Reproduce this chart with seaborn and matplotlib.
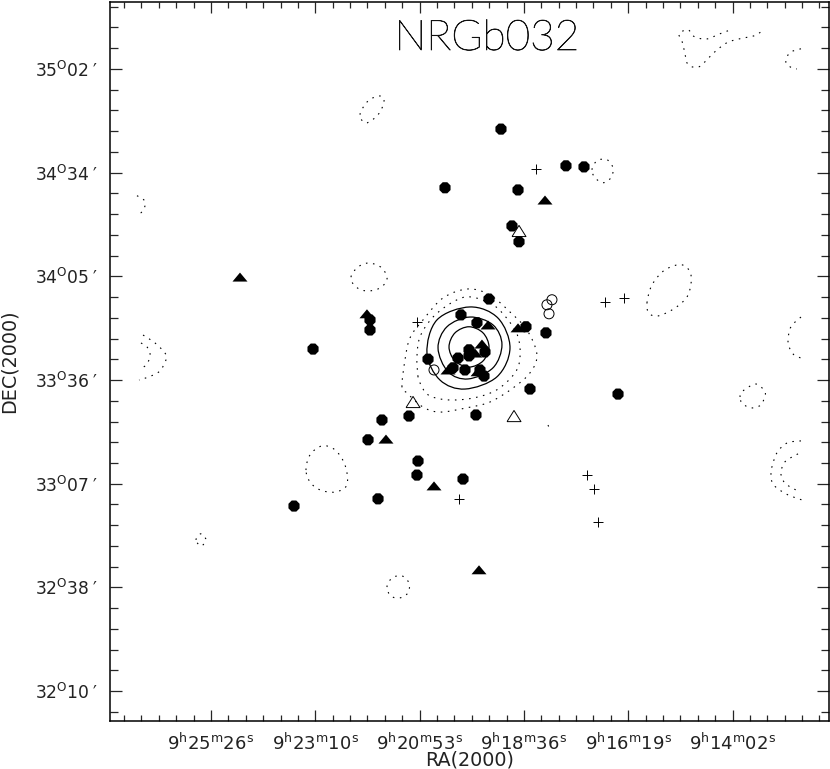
import numpy as np
import pandas as pd
import matplotlib
matplotlib.use('Agg')
import matplotlib.pyplot as plt
import matplotlib.patheffects as pe
from matplotlib.path import Path
from matplotlib.patches import PathPatch
import seaborn as sns

# positions: RA = seconds after 9h, DEC = arcmin
ra_ticks = [1526, 1388.3, 1250.6, 1112.9, 975.2, 837.5]
ra_labels = ['25$^{m}$26', '23$^{m}$10', '20$^{m}$53', '18$^{m}$36', '16$^{m}$19', '14$^{m}$02']
dec_ticks = [2102.4, 2073.6, 2044.8, 2016.0, 1987.2, 1958.4, 1929.6]
dec_labels = ['35$^{O}$02', '34$^{O}$34', '34$^{O}$05', '33$^{O}$36', '33$^{O}$07', '32$^{O}$38', '32$^{O}$10']

# galaxies, one pair of lists per symbol
filled_circle_ra = [1143.2, 1057.4, 1033.6, 1217.1, 1120.7, 1128.7, 1119.4, 1159.0, 1196.0, 1174.9, 1110.2, 1083.8,
                    1316.1, 1316.1, 1391.3, 1164.3, 1185.4, 1185.4, 1199.9, 1239.5, 1206.5, 1190.7, 1170.9, 1165.6,
                    1104.9, 1264.6, 1176.2, 1300.3, 988.7, 1318.7, 1252.7, 1254.1, 1193.3, 1305.5, 1416.4]
filled_circle_dec = [2085.7, 2075.5, 2075.2, 2069.4, 2068.8, 2058.8, 2054.4, 2038.5, 2034.1, 2031.9, 2030.8, 2029.1,
                     2032.7, 2029.9, 2024.6, 2023.8, 2024.4, 2022.7, 2022.1, 2021.8, 2019.4, 2018.8, 2018.8, 2017.1,
                     2013.5, 2006.0, 2006.3, 2004.9, 2012.1, 1999.4, 1993.5, 1989.6, 1988.5, 1983.0, 1981.0]
filled_tri_ra = [1487.7, 1320.1, 1085.1, 1160.3, 1120.7, 1168.3, 1173.5, 1213.1, 1295.0, 1231.6, 1172.2, 1177.5]
filled_tri_dec = [2044.6, 2034.4, 2066.0, 2031.3, 2030.5, 2026.0, 2018.3, 2018.8, 1999.6, 1986.6, 1963.3, 2023.5]
open_circle_ra = [1231.6, 1075.9, 1082.5, 1079.8]
open_circle_dec = [2018.8, 2038.3, 2036.9, 2034.4]
open_tri_ra = [1119.4, 1259.3, 1126.0]
open_tri_dec = [2057.4, 2009.9, 2006.0]
plus_ra = [1097.0, 1254.1, 1005.9, 980.8, 1198.6, 1029.7, 1020.4, 1015.1]
plus_dec = [2074.7, 2032.1, 2037.7, 2038.8, 1983.0, 1989.6, 1985.8, 1976.6]

# X-ray contours
solid_contours = [
    ([1240.9, 1227.7, 1184.1, 1147.1, 1131.3, 1148.5, 1190.7, 1223.7],
     [2023.5, 2032.7, 2036.3, 2033.2, 2024.9, 2016.9, 2013.5, 2016.0]),
    ([1226.3, 1214.5, 1184.1, 1153.7, 1141.9, 1153.7, 1186.7, 1213.1],
     [2024.9, 2030.8, 2033.5, 2031.3, 2025.8, 2019.4, 2016.3, 2018.3]),
    ([1211.8, 1203.9, 1185.4, 1166.9, 1159.0, 1166.9, 1185.4, 1203.9],
     [2025.2, 2029.1, 2030.8, 2029.1, 2025.2, 2021.3, 2019.6, 2021.3]),
]
dotted_closed = [
    ([1273.9, 1269.9, 1263.3, 1246.1, 1219.7, 1186.7, 1157.7, 1131.3, 1108.9, 1095.7, 1104.9, 1127.3, 1157.7, 1188.1, 1223.7, 1246.1, 1267.3],
     [2014.1, 2021.6, 2027.7, 2032.7, 2038.8, 2041.3, 2039.6, 2034.9, 2029.9, 2023.0, 2018.0, 2013.8, 2009.9, 2008.3, 2007.1, 2008.5, 2012.4]),
    ([1252.7, 1254.1, 1250.1, 1232.9, 1206.5, 1184.1, 1153.7, 1133.9, 1120.7, 1118.1, 1124.7, 1148.5, 1180.1, 1214.5, 1239.5, 1250.1],
     [2016.9, 2022.4, 2028.0, 2033.5, 2037.7, 2039.1, 2036.9, 2032.7, 2028.0, 2022.4, 2018.0, 2013.3, 2011.0, 2010.5, 2011.9, 2015.2]),
    ([1329.3, 1318.7, 1302.9, 1297.6, 1305.5, 1321.4],
     [2089.7, 2093.5, 2094.9, 2093.3, 2089.7, 2087.4]),
    ([1341.2, 1331.9, 1317.4, 1300.3, 1293.7, 1305.5, 1322.7, 1335.9],
     [2044.6, 2047.4, 2048.5, 2047.1, 2043.8, 2041.3, 2040.8, 2042.1]),
    ([950.5, 943.9, 926.7, 904.3, 892.4, 896.3, 913.5, 935.9, 947.8],
     [2037.4, 2042.4, 2046.6, 2048.0, 2045.2, 2039.6, 2036.0, 2033.8, 2034.6]),
    ([1400.6, 1395.3, 1379.5, 1362.3, 1349.1, 1346.5, 1362.3, 1382.1, 1395.3],
     [1991.0, 1995.2, 1997.7, 1996.6, 1992.4, 1986.9, 1984.9, 1985.5, 1987.7]),
    ([1545.8, 1539.2, 1532.6, 1539.2],
     [1971.6, 1973.3, 1971.6, 1969.9]),
    ([1293.7, 1287.1, 1273.9, 1264.6, 1265.9, 1276.5, 1288.4],
     [1958.5, 1961.0, 1961.6, 1959.6, 1956.9, 1955.5, 1956.0]),
    ([1023.1, 1016.5, 1003.3, 995.3, 998.0, 1008.5, 1019.1],
     [2074.4, 2076.9, 2077.2, 2074.9, 2072.2, 2070.8, 2072.2]),
    ([827.7, 823.7, 806.6, 794.7, 796.0, 800.0, 809.2, 817.1, 825.1],
     [2011.3, 2013.0, 2014.9, 2012.7, 2010.8, 2009.1, 2008.3, 2008.5, 2009.6]),
]
dotted_open = [
    ([747.2, 760.4, 764.3, 761.7, 756.4, 747.2],
     [2033.5, 2030.8, 2027.1, 2024.6, 2023.0, 2022.1]),
    ([747.2, 765.7, 778.9, 785.5, 786.8, 785.5, 778.9, 764.3, 745.9],
     [1999.1, 1998.5, 1995.8, 1991.9, 1990.2, 1987.7, 1986.0, 1984.1, 1982.7]),
    ([751.1, 768.3, 773.6, 769.6, 759.1, 749.8],
     [1995.5, 1993.3, 1990.2, 1987.7, 1986.0, 1985.2]),
    ([843.5, 851.5, 869.9, 879.2, 889.7, 896.3, 908.2, 904.3, 900.3, 897.7, 891.1, 881.8, 873.9, 860.7, 844.9, 827.7, 809.2, 800.0],
     [2113.0, 2112.4, 2110.8, 2110.8, 2111.6, 2113.3, 2112.2, 2110.2, 2106.6, 2104.1, 2103.0, 2103.0, 2104.4, 2107.2, 2109.7, 2110.8, 2111.6, 2112.7]),
    ([747.2, 757.7, 764.3, 767.0, 759.1, 752.5],
     [2108.0, 2107.4, 2106.3, 2104.1, 2102.7, 2102.4]),
    ([1623.7, 1614.4, 1613.1, 1617.1, 1622.3],
     [2067.2, 2066.0, 2064.4, 2062.7, 2062.2]),
    ([1615.7, 1599.9, 1586.7, 1585.4, 1594.6, 1611.8, 1621.0],
     [2028.5, 2026.3, 2023.5, 2021.6, 2018.3, 2016.6, 2016.0]),
    ([1618.4, 1610.5, 1606.5, 1607.8, 1613.1, 1621.0],
     [2026.3, 2025.2, 2023.5, 2021.6, 2019.9, 2019.1]),
    ([1081.1, 1078.5],
     [2003.5, 2002.1]),
]


def smooth_path(xs, ys, closed):
    # catmull-rom control points turned into bezier segments
    pts = np.column_stack([xs, ys])
    n = len(pts)
    verts = [pts[0]]
    codes = [Path.MOVETO]
    for i in range(n if closed else n - 1):
        if closed:
            p0, p1, p2, p3 = pts[(i - 1) % n], pts[i], pts[(i + 1) % n], pts[(i + 2) % n]
        else:
            p0, p1, p2, p3 = pts[max(i - 1, 0)], pts[i], pts[i + 1], pts[min(i + 2, n - 1)]
        verts += [p1 + (p2 - p0) / 6, p2 - (p3 - p1) / 6, p2]
        codes += [Path.CURVE4] * 3
    return Path(verts, codes)


sns.set_theme(style='ticks')
plt.rcParams['font.family'] = 'DejaVu Sans'
plt.rcParams['mathtext.default'] = 'regular'
ink = '#222222'

fig = plt.figure(figsize=(8.3, 7.69), dpi=100)
ax = fig.add_axes([110 / 830, 1 - 721 / 769, 719 / 830, 719 / 769])

for xs, ys in solid_contours:
    ax.add_patch(PathPatch(smooth_path(xs, ys, True), fill=False, ec='black', lw=0.9))
dots = (0, (1.4, 5.0))
for xs, ys in dotted_closed:
    ax.add_patch(PathPatch(smooth_path(xs, ys, True), fill=False, ec='black', lw=0.8, ls=dots))
for xs, ys in dotted_open:
    ax.add_patch(PathPatch(smooth_path(xs, ys, False), fill=False, ec='black', lw=0.8, ls=dots))

flat_tri = [(-1, -0.6), (1, -0.6), (0, 0.6), (-1, -0.6)]
tall_tri = [(-1, -0.8), (1, -0.8), (0, 0.8), (-1, -0.8)]

sns.scatterplot(data=pd.DataFrame({'ra': filled_tri_ra, 'dec': filled_tri_dec}), x='ra', y='dec', ax=ax,
                marker=flat_tri, s=117, color='black', edgecolor='none', zorder=3)
sns.scatterplot(data=pd.DataFrame({'ra': filled_circle_ra, 'dec': filled_circle_dec}), x='ra', y='dec', ax=ax,
                marker='8', s=75, color='black', edgecolor='none', zorder=4)
sns.scatterplot(data=pd.DataFrame({'ra': open_circle_ra, 'dec': open_circle_dec}), x='ra', y='dec', ax=ax,
                marker='o', s=52, facecolors='none', edgecolor='black', linewidth=0.7, zorder=5)
sns.scatterplot(data=pd.DataFrame({'ra': open_tri_ra, 'dec': open_tri_dec}), x='ra', y='dec', ax=ax,
                marker=tall_tri, s=101, facecolors='none', edgecolor='black', linewidth=0.7, zorder=5)
sns.scatterplot(data=pd.DataFrame({'ra': plus_ra, 'dec': plus_dec}), x='ra', y='dec', ax=ax,
                marker='+', s=62, color='black', linewidth=0.7, zorder=5)

ax.set_xticks(ra_ticks)
ax.set_xticklabels(['9$^{h}$' + s + '$^{s}$' for s in ra_labels], fontsize=13, color=ink)
ax.set_yticks(dec_ticks)
ax.set_yticklabels([s + '\u2009\u2032' for s in dec_labels], fontsize=12.3, color=ink)
ax.set_xticks(np.arange(1526 + 137.7 * 5 / 6, 712, -137.7 / 6), minor=True)
ax.set_yticks(np.arange(2102.4 + 5.76 * 3, 1922, -5.76), minor=True)

# after the ticks, set_xticks widens the view otherwise
ax.set_xlim(1659.3, 710.2)
ax.set_ylim(1921.3, 2121.0)

ax.tick_params(axis='x', which='major', direction='in', top=True, bottom=True, length=8, width=0.9, pad=8)
ax.tick_params(axis='x', which='minor', direction='in', top=True, bottom=True, length=4.5, width=0.9)
ax.tick_params(axis='y', which='major', direction='in', left=True, right=True, length=8.6, width=0.9, pad=9)
ax.tick_params(axis='y', which='minor', direction='in', left=True, right=True, length=5.8, width=0.9)
for side in ax.spines.values():
    side.set_linewidth(1.1)
    side.set_color('black')
    side.set_visible(True)

ax.set_xlabel('RA(2000)', fontsize=13.8, color=ink, va='center')
ax.set_ylabel('DEC(2000)', fontsize=13.8, color=ink, va='center')
ax.xaxis.set_label_coords(0.5, -(760 - 721) / 719)
ax.yaxis.set_label_coords((9 - 110) / 719, 0.5)

title = fig.text(487 / 830, 1 - 50 / 769, 'NRGb032', fontsize=30.5, ha='center', va='baseline',
                 color='#111111', family='Lato', fontweight='light')
title.set_path_effects([pe.withStroke(linewidth=0.5, foreground='#111111')])

fig.savefig('out.png', dpi=100)
